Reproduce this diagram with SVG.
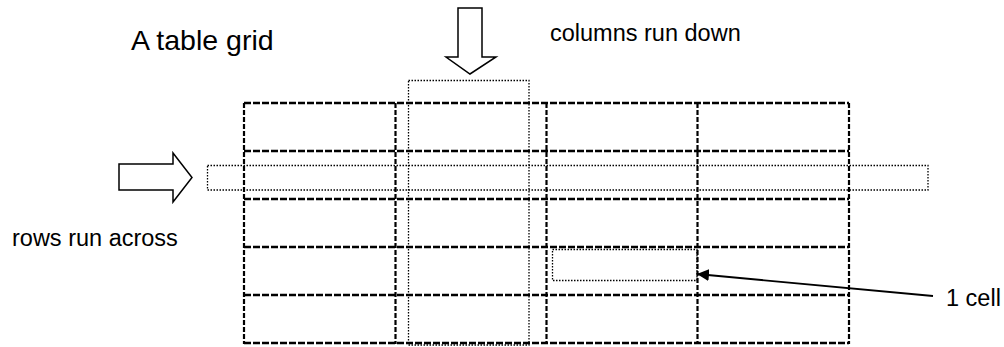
<svg xmlns="http://www.w3.org/2000/svg" width="1004" height="347" viewBox="0 0 1004 347">
<defs>
<style>
.h{stroke:#000;stroke-width:2.5;stroke-dasharray:7 2}
.v{stroke:#000;stroke-width:2.2;stroke-dasharray:5 2}
.dot{fill:none;stroke:#000;stroke-width:1.3;stroke-dasharray:1.5 1.5}
.blk{fill:#fff;stroke:#000;stroke-width:1.5;stroke-linejoin:miter}
.lbl{font-family:"Liberation Sans",Arial,sans-serif;fill:#000}
</style>
<marker id="ah" viewBox="0 0 12 12" refX="12" refY="6" markerWidth="12" markerHeight="12" markerUnits="userSpaceOnUse" orient="auto">
<path d="M0,0 L12,6 L0,12 Z" fill="#000"/>
</marker>
</defs>
<rect width="1004" height="347" fill="#fff"/>
<g id="title"><text class="lbl" x="131" y="50" font-size="28.5">A table grid</text></g>
<g id="grid">
<line class="h" x1="244" y1="103" x2="849" y2="103"/>
<line class="h" x1="244" y1="151" x2="849" y2="151"/>
<line class="h" x1="244" y1="199" x2="849" y2="199"/>
<line class="h" x1="244" y1="247" x2="849" y2="247"/>
<line class="h" x1="244" y1="295" x2="849" y2="295"/>
<line class="h" x1="244" y1="343" x2="849" y2="343"/>
<line class="v" x1="244" y1="103" x2="244" y2="344"/>
<line class="v" x1="395.5" y1="103" x2="395.5" y2="344"/>
<line class="v" x1="546.5" y1="103" x2="546.5" y2="344"/>
<line class="v" x1="697.5" y1="103" x2="697.5" y2="344"/>
<line class="v" x1="849" y1="103" x2="849" y2="344"/>
</g>
<g id="column-highlight"><rect class="dot" x="408.5" y="80.5" width="120.5" height="264.5"/></g>
<g id="row-highlight"><rect class="dot" x="207.5" y="165.5" width="720.5" height="24.5"/></g>
<g id="cell-highlight"><rect class="dot" x="552.5" y="249.5" width="144.5" height="31"/></g>
<g id="down-arrow"><polygon class="blk" points="458,8 482,8 482,57 496,57 470,74 446,57 458,57"/></g>
<g id="right-arrow"><polygon class="blk" points="119,164 173,164 173,153 192,177.5 173,202 173,190 119,190"/></g>
<g id="columns-label"><text class="lbl" x="550" y="41" font-size="23.5">columns run down</text></g>
<g id="rows-label"><text class="lbl" x="12" y="245.5" font-size="23.5">rows run across</text></g>
<g id="cell-label"><text class="lbl" x="946" y="306" font-size="23.5">1 cell</text></g>
<g id="connectors">
<line x1="933" y1="296" x2="697" y2="274" stroke="#000" stroke-width="1.8" marker-end="url(#ah)"/>
</g>
</svg>
